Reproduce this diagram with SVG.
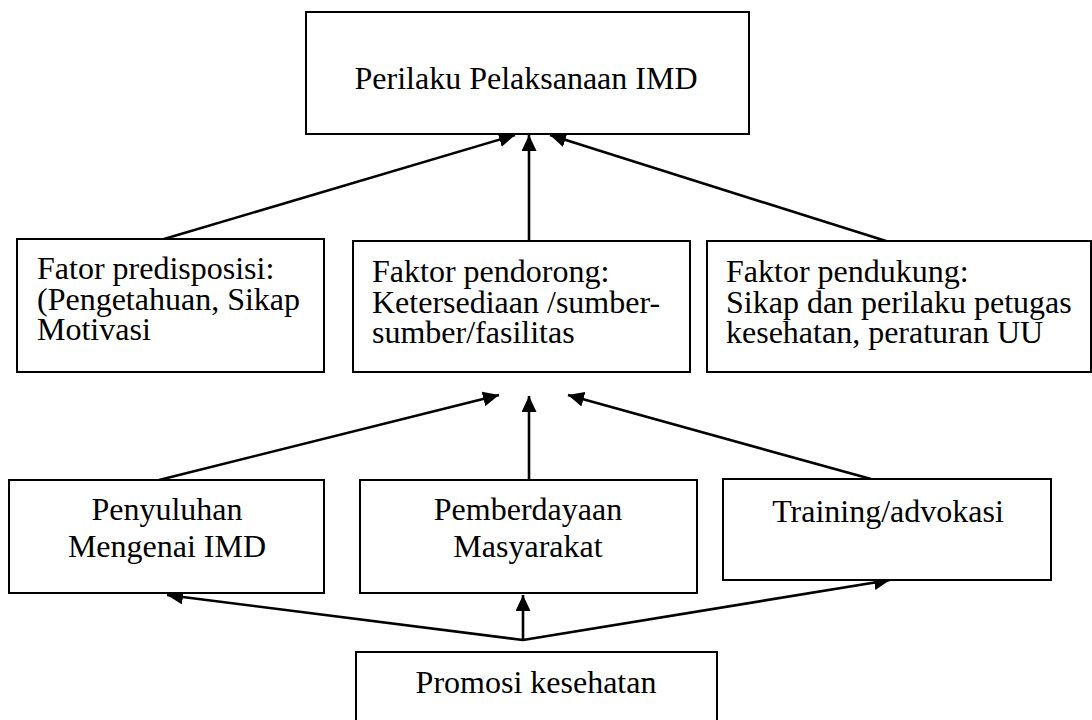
<svg xmlns="http://www.w3.org/2000/svg" width="1092" height="720" viewBox="0 0 1092 720">
<style>
.box{fill:#fff;stroke:#000;stroke-width:2}
.c{stroke:#000;stroke-width:2.6;fill:none;marker-end:url(#ah)}
</style>
<defs>
<marker id="ah" markerUnits="userSpaceOnUse" markerWidth="16" markerHeight="15" refX="16" refY="7.5" orient="auto">
<path d="M0,0 L16,7.5 L0,15 z" fill="#000"/>
</marker>
</defs>
<rect width="1092" height="720" fill="#fff"/>
<g id="connectors">
<line class="c" x1="164" y1="239" x2="515" y2="135"/>
<line class="c" x1="529" y1="241" x2="529" y2="135"/>
<line class="c" x1="886" y1="241" x2="550" y2="135"/>
<line class="c" x1="159" y1="480" x2="499" y2="395"/>
<line class="c" x1="529" y1="480" x2="529" y2="396"/>
<line class="c" x1="871" y1="479" x2="568" y2="395"/>
<line class="c" x1="523" y1="641" x2="523" y2="595"/>
<line class="c" x1="523" y1="640" x2="167" y2="595"/>
<line class="c" x1="523" y1="640" x2="890" y2="580"/>
</g>
<g font-family="Liberation Serif, Times New Roman, serif" font-size="32" fill="#000">
<g id="perilaku">
<rect class="box" x="306" y="12" width="443" height="122"/>
<text x="526" y="89" text-anchor="middle">Perilaku Pelaksanaan IMD</text>
</g>
<g id="predisposisi">
<rect class="box" x="17" y="239" width="307" height="133"/>
<text x="37" y="279">Fator predisposisi:</text>
<text x="37" y="310">(Pengetahuan, Sikap</text>
<text x="37" y="340">Motivasi</text>
</g>
<g id="pendorong">
<rect class="box" x="353" y="241" width="337" height="131"/>
<text x="372" y="282">Faktor pendorong:</text>
<text x="372" y="313">Ketersediaan /sumber-</text>
<text x="372" y="343">sumber/fasilitas</text>
</g>
<g id="pendukung">
<rect class="box" x="707" y="241" width="384" height="131"/>
<text x="726" y="282">Faktor pendukung:</text>
<text x="726" y="313">Sikap dan perilaku petugas</text>
<text x="726" y="343">kesehatan, peraturan UU</text>
</g>
<g id="penyuluhan">
<rect class="box" x="9" y="480" width="315" height="113"/>
<text x="167" y="520" text-anchor="middle">Penyuluhan</text>
<text x="167" y="557" text-anchor="middle">Mengenai IMD</text>
</g>
<g id="pemberdayaan">
<rect class="box" x="360" y="480" width="337" height="113"/>
<text x="528" y="520" text-anchor="middle">Pemberdayaan</text>
<text x="528" y="557" text-anchor="middle">Masyarakat</text>
</g>
<g id="training">
<rect class="box" x="723" y="479" width="328" height="101"/>
<text x="888" y="522" text-anchor="middle">Training/advokasi</text>
</g>
<g id="promosi">
<rect class="box" x="356" y="652" width="361" height="72"/>
<text x="536" y="693" text-anchor="middle">Promosi kesehatan</text>
</g>
</g>
</svg>
